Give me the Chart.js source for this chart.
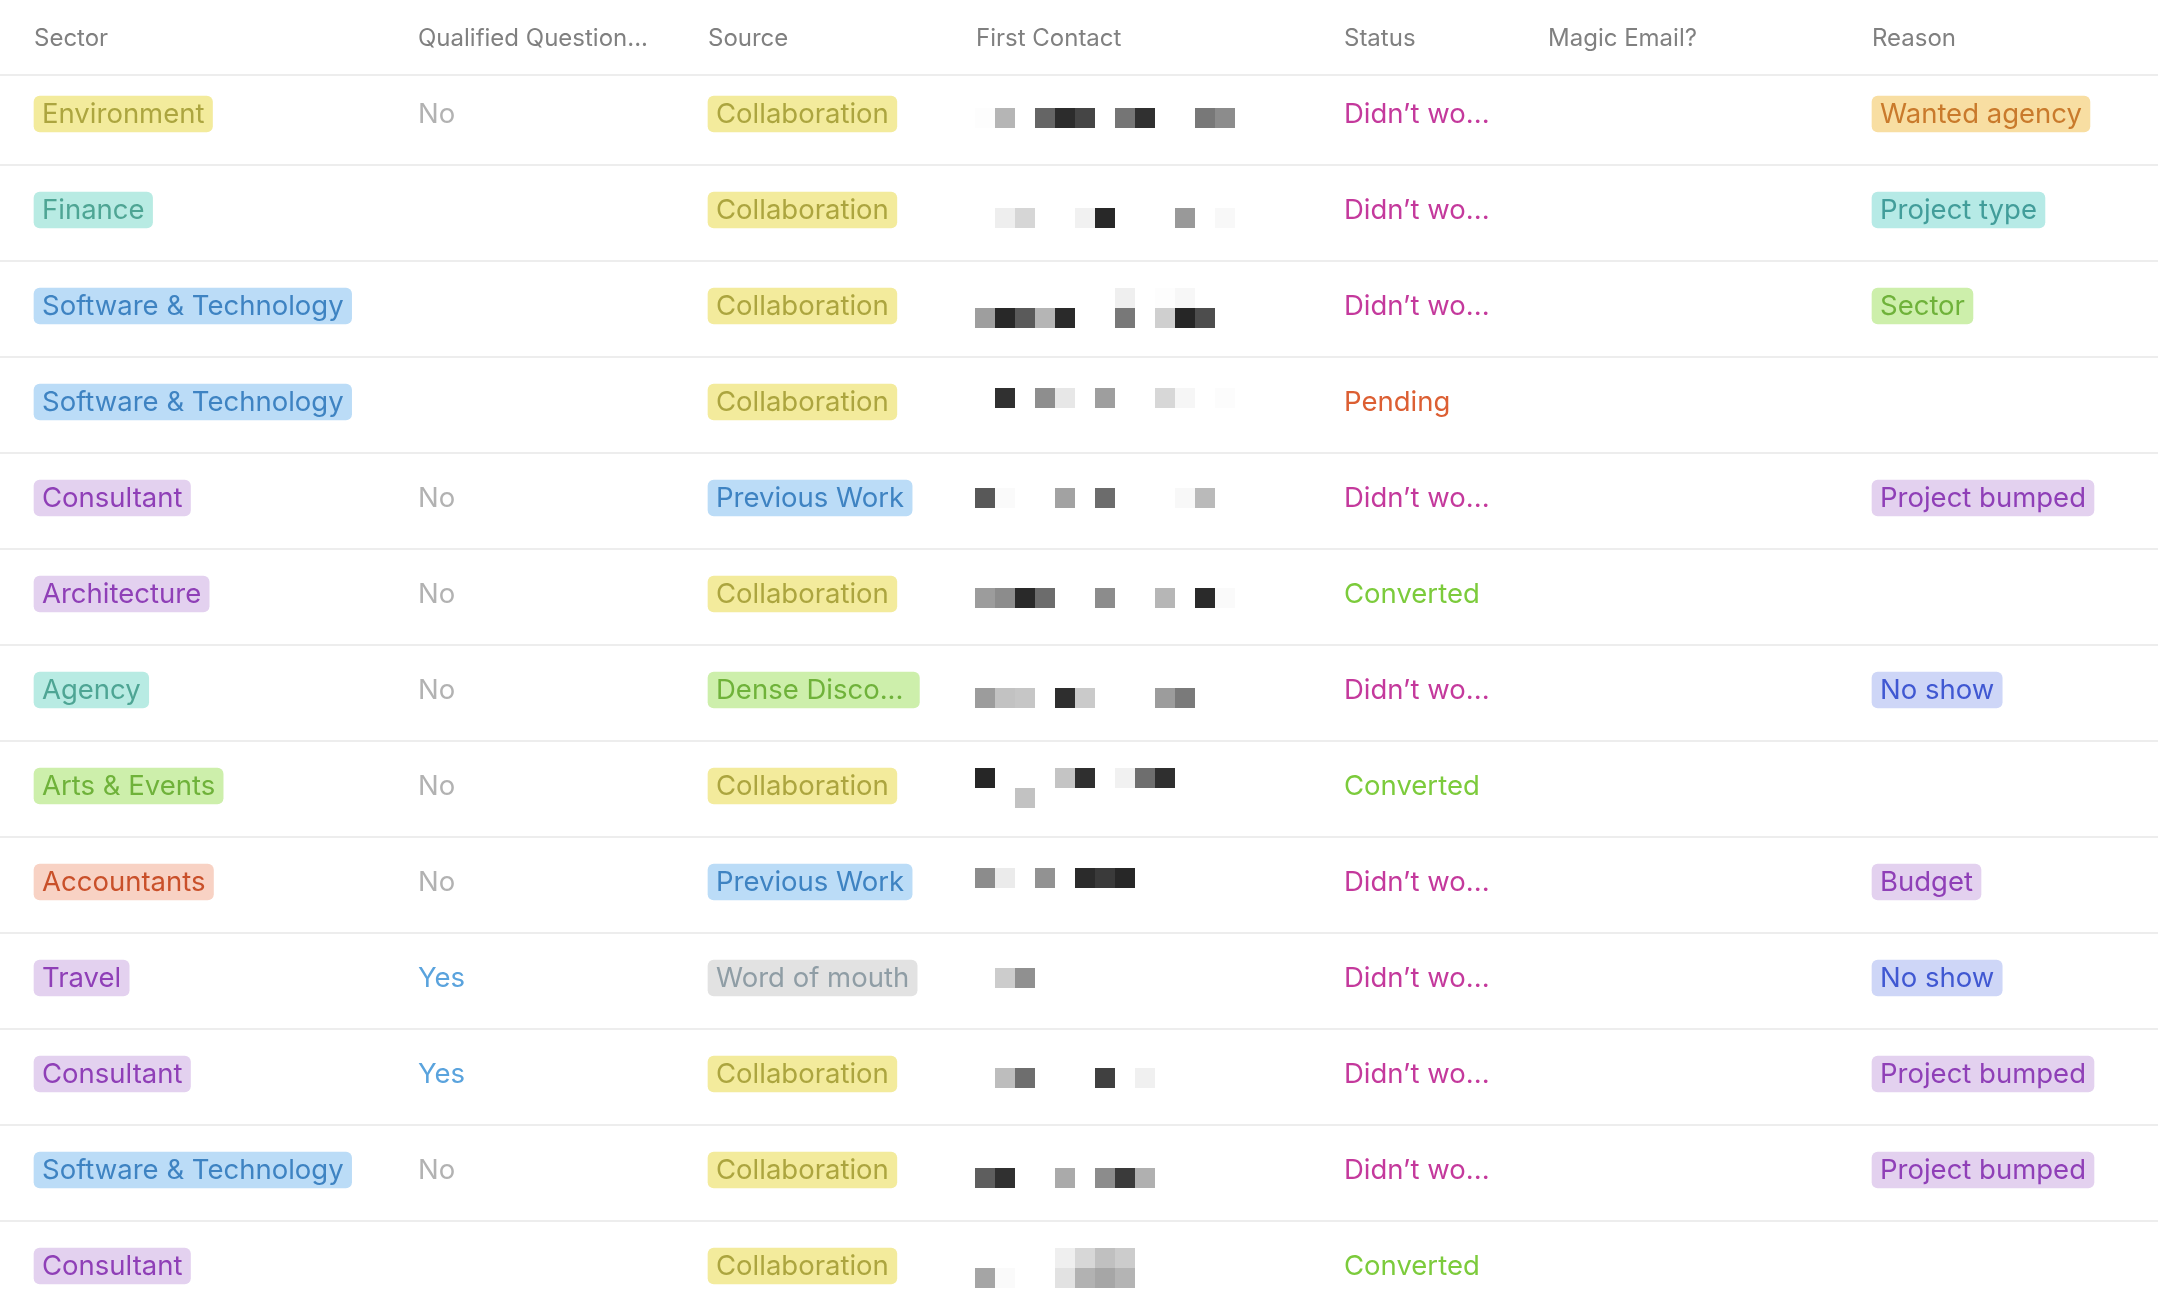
<!DOCTYPE html>
<html>
<head>
<meta charset="utf-8">
<title>Leads</title>
<style>
  html, body { margin: 0; padding: 0; background: #fff; }
  #wrap { width: 2158px; height: 1315px; }
</style>
<script src="https://cdn.jsdelivr.net/npm/chart.js@4/dist/chart.umd.js"></script>
</head>
<body>
<div id="wrap"><canvas id="tableChart" width="2158" height="1315"></canvas></div>
<script>
// table content
const headers = ["Sector", "Qualified Question...", "Source", "First Contact", "Status", "Magic Email?", "Reason"];
const sectors = ["Environment", "Finance", "Software & Technology", "Software & Technology", "Consultant", "Architecture", "Agency", "Arts & Events", "Accountants", "Travel", "Consultant", "Software & Technology", "Consultant"];
const qualified = ["No", "", "", "", "No", "No", "No", "No", "No", "Yes", "Yes", "No", ""];
const sources = ["Collaboration", "Collaboration", "Collaboration", "Collaboration", "Previous Work", "Collaboration", "Dense Disco...", "Collaboration", "Previous Work", "Word of mouth", "Collaboration", "Collaboration", "Collaboration"];
const statuses = ["Didn’t wo...", "Didn’t wo...", "Didn’t wo...", "Pending", "Didn’t wo...", "Converted", "Didn’t wo...", "Converted", "Didn’t wo...", "Didn’t wo...", "Didn’t wo...", "Didn’t wo...", "Converted"];
const reasons = ["Wanted agency", "Project type", "Sector", "", "Project bumped", "", "No show", "", "Budget", "No show", "Project bumped", "Project bumped", ""];

// blurred "First Contact" mosaic: [grid row, grid column, grey level]
const mosaicCells = [
  [0,0,253],[0,1,181],[0,3,101],[0,4,44],[0,5,69],[0,7,117],[0,8,48],[0,11,120],[0,12,140],
  [5,1,238],[5,2,214],[5,5,241],[5,6,40],[5,10,153],[5,12,248],
  [9,7,239],[9,9,253],[9,10,247],
  [10,0,158],[10,1,40],[10,2,90],[10,3,181],[10,4,42],[10,7,120],[10,9,207],[10,10,38],[10,11,77],
  [14,1,48],[14,3,142],[14,4,231],[14,6,158],[14,9,215],[14,10,246],[14,12,252],
  [19,0,88],[19,1,250],[19,4,162],[19,6,108],[19,10,248],[19,11,186],
  [24,0,156],[24,1,140],[24,2,41],[24,3,108],[24,6,140],[24,9,182],[24,11,42],[24,12,250],
  [29,0,156],[29,1,194],[29,2,198],[29,4,46],[29,5,202],[29,9,156],[29,10,122],
  [33,0,38],[33,4,196],[33,5,47],[33,7,241],[33,8,110],[33,9,47],
  [34,2,194],
  [38,0,140],[38,1,235],[38,3,146],[38,5,43],[38,6,58],[38,7,39],
  [43,1,204],[43,2,144],
  [48,1,189],[48,2,110],[48,6,64],[48,8,240],
  [53,0,94],[53,1,48],[53,4,170],[53,6,140],[53,7,58],[53,8,176],
  [57,4,239],[57,5,215],[57,6,192],[57,7,204],
  [58,0,165],[58,1,250],[58,4,226],[58,5,178],[58,6,166],[58,7,180]
];

// colours per label
const yellow = ["#f3eb9c", "#aca53f"];
const teal = ["#b8ebe3", "#4ea594"];
const blue = ["#bbdcf7", "#3e83c2"];
const purple = ["#e3d1ef", "#8f3fb7"];
const green = ["#cdefab", "#6fb23a"];
const pillColors = {
  "Environment": yellow, "Finance": teal, "Software & Technology": blue, "Consultant": purple,
  "Architecture": purple, "Agency": teal, "Arts & Events": green, "Accountants": ["#f8d2c4", "#c9502a"],
  "Travel": purple, "Collaboration": yellow, "Previous Work": blue, "Dense Disco...": green,
  "Word of mouth": ["#e2e2e2", "#8f9da5"], "Wanted agency": ["#f8dea2", "#c97a2c"],
  "Project type": ["#b6eae6", "#429d9a"], "Sector": green, "Project bumped": purple,
  "No show": ["#ced6f7", "#4058d2"], "Budget": purple
};
const statusColors = { "Didn’t wo...": "#c4399c", "Pending": "#dc5f33", "Converted": "#7ccb3c" };
const qualifiedColors = { "No": "#b2b2b2", "Yes": "#5aa3dd" };

// layout in canvas px
const WIDTH = 2158, HEIGHT = 1315;
const ROW_H = 96, FIRST_ROW_Y = 114, CELL = 20, PILL_PAD = 8;
const TRUNCATED_EXTRA = 8; // cut-off labels keep a wider pill
const columnX = [34, 418, 708, 976, 1344, 1548, 1872];
const HEADER_FONT = '400 24px Inter';
const BODY_FONT = '400 27.5px Inter';

const measure = document.createElement('canvas').getContext('2d');
measure.font = BODY_FONT;

function pillData(labels, colIndex) {
    const out = [];
    labels.forEach((label, i) => {
        if (!label) return;
        const start = columnX[colIndex];
        let w = measure.measureText(label).width + PILL_PAD * 2;
        if (label.endsWith('...')) w += TRUNCATED_EXTRA;
        out.push({ x: [start, start + w], y: i, label: label });
    });
    return out;
}

function pillDataset(labels, colIndex) {
    const data = pillData(labels, colIndex);
    return {
        type: 'bar',
        indexAxis: 'y',
        grouped: false,
        xAxisID: 'x',
        yAxisID: 'y',
        data: data,
        barThickness: 36,
        borderRadius: 6,
        borderSkipped: false,
        backgroundColor: data.map(d => pillColors[d.label][0])
    };
}

// row and header texts go on top of the marks
const tableText = {
    id: 'tableText',
    afterDatasetsDraw(chart) {
        const { ctx, scales: { x, y } } = chart;
        ctx.save();
        ctx.textBaseline = 'middle';
        ctx.textAlign = 'left';
        ctx.font = HEADER_FONT;
        ctx.fillStyle = '#808080';
        headers.forEach((h, c) => ctx.fillText(h, x.getPixelForValue(columnX[c]), y.getPixelForValue(-0.78)));
        ctx.font = BODY_FONT;
        const pills = [[sectors, 0], [sources, 2], [reasons, 6]];
        pills.forEach(([labels, c]) => {
            labels.forEach((label, i) => {
                if (!label) return;
                ctx.fillStyle = pillColors[label][1];
                ctx.fillText(label, x.getPixelForValue(columnX[c] + PILL_PAD), y.getPixelForValue(i) + 1);
            });
        });
        qualified.forEach((label, i) => {
            if (!label) return;
            ctx.fillStyle = qualifiedColors[label];
            ctx.fillText(label, x.getPixelForValue(columnX[1]), y.getPixelForValue(i) + 1);
        });
        statuses.forEach((label, i) => {
            ctx.fillStyle = statusColors[label];
            ctx.fillText(label, x.getPixelForValue(columnX[4]), y.getPixelForValue(i) + 1);
        });
        ctx.restore();
    }
};

new Chart(document.getElementById('tableChart').getContext('2d'), {
    type: 'scatter',
    data: {
        datasets: [
            pillDataset(sectors, 0),
            pillDataset(sources, 2),
            pillDataset(reasons, 6),
            {
                type: 'scatter',
                xAxisID: 'mosaicX',
                yAxisID: 'mosaicY',
                data: mosaicCells.map(c => ({ x: c[1], y: c[0] })),
                pointStyle: 'rect',
                pointRadius: CELL * Math.SQRT1_2,
                pointBorderWidth: 0,
                pointBackgroundColor: mosaicCells.map(c => `rgb(${c[2]},${c[2]},${c[2]})`)
            }
        ]
    },
    options: {
        responsive: false,
        animation: false,
        devicePixelRatio: 1,
        layout: { padding: 0, autoPadding: false },
        plugins: { legend: { display: false }, tooltip: { enabled: false } },
        scales: {
            x: { type: 'linear', min: 0, max: WIDTH, display: false, offset: false },
            y: {
                type: 'linear',
                reverse: true,
                offset: false,
                min: -FIRST_ROW_Y / ROW_H,
                max: (HEIGHT - FIRST_ROW_Y) / ROW_H,
                position: 'left',
                afterFit(scale) { scale.width = 0; },
                // row separators are the y axis grid
                afterBuildTicks(scale) {
                    scale.ticks = [{ value: -0.40625 }];
                    for (let i = 0; i < 12; i++) scale.ticks.push({ value: i + 0.53125 });
                },
                grid: { color: '#ededed', lineWidth: 2, drawTicks: false, offset: false },
                border: { display: false },
                ticks: { display: false }
            },
            mosaicX: { type: 'linear', min: (0 - 985) / CELL, max: (WIDTH - 985) / CELL, display: false },
            mosaicY: { type: 'linear', reverse: true, min: (0 - 118) / CELL, max: (HEIGHT - 118) / CELL, display: false }
        }
    },
    plugins: [tableText]
});
</script>
</body>
</html>
